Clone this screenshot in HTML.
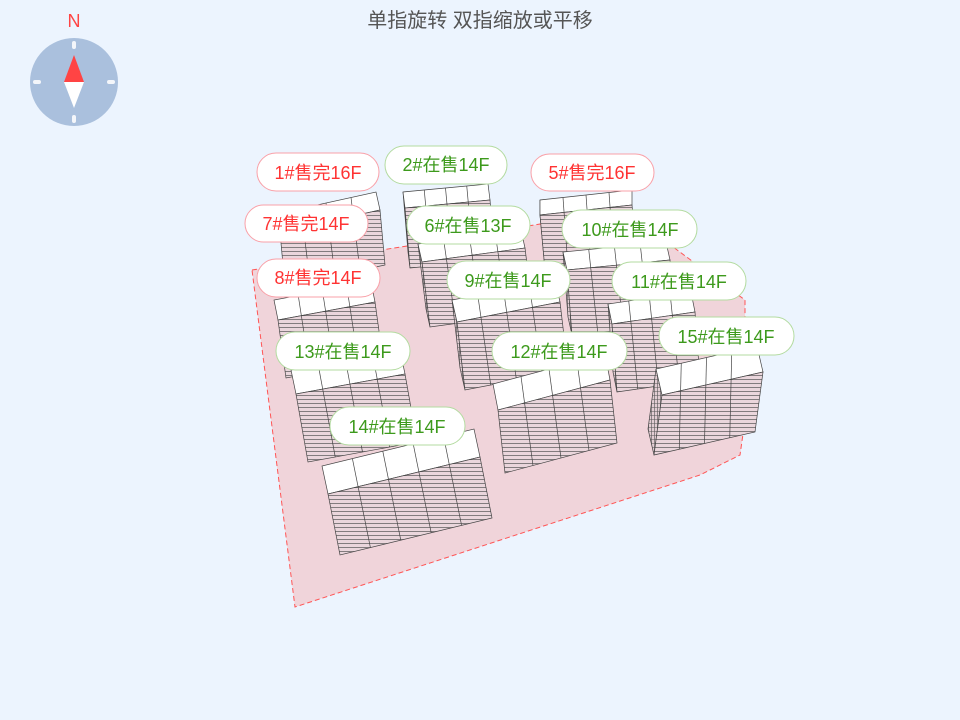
<!DOCTYPE html>
<html><head><meta charset="utf-8"><style>
body{margin:0;background:#ecf4fe;}
svg{display:block;font-family:"Liberation Sans","Noto Sans CJK SC",sans-serif;}
</style></head><body>
<svg id="s" width="960" height="720" viewBox="0 0 960 720">
<defs>
<pattern id="st" width="8" height="4" patternUnits="userSpaceOnUse">
<rect width="8" height="4" fill="#ead6dc"/><line x1="0" y1="3.6" x2="8" y2="3.6" stroke="#555" stroke-width="0.7"/>
</pattern>
<pattern id="sd" width="3" height="4" patternUnits="userSpaceOnUse">
<rect width="3" height="4" fill="#e2cdd3"/><line x1="0.5" y1="0" x2="0.5" y2="4" stroke="#555" stroke-width="0.6"/><line x1="0" y1="3.6" x2="3" y2="3.6" stroke="#555" stroke-width="0.5"/>
</pattern>
</defs>
<rect width="960" height="720" fill="#ecf4fe"/>
<text x="480" y="27" text-anchor="middle" font-size="20" fill="#555">单指旋转 双指缩放或平移</text>
<text x="74" y="27" text-anchor="middle" font-size="18" fill="#f44">N</text>
<circle cx="74" cy="82" r="44" fill="#aac0dd"/>
<g stroke="#f4f6fa" stroke-width="4" stroke-linecap="round">
<line x1="74" y1="43" x2="74" y2="47"/><line x1="74" y1="117" x2="74" y2="121"/>
<line x1="35" y1="82" x2="39" y2="82"/><line x1="109" y1="82" x2="113" y2="82"/></g>
<polygon points="74,55 64,82 84,82" fill="#f44"/>
<polygon points="74,108 64,82 84,82" fill="#fff"/>
<polygon points="252,270 420,244 540,224 650,230 745,300 745,420 740,455 700,475 295,607" fill="#f0d4da" stroke="#f55" stroke-dasharray="5,3" stroke-width="1"/>
<g id="bl" stroke="#444" stroke-width="0.7"></g>
<g font-size="18" text-anchor="middle">
<g fill="#fff" stroke="#f9a0a8" stroke-width="1">
<rect x="257" y="153" width="122" height="38" rx="19"/>
<rect x="531" y="154" width="123" height="37" rx="18.5"/>
<rect x="245" y="205" width="123" height="37" rx="18.5"/>
<rect x="257" y="259" width="123" height="38" rx="19"/>
</g>
<g fill="#fff" stroke="#b3dba0" stroke-width="1">
<rect x="385" y="146" width="122" height="38" rx="19"/>
<rect x="407" y="206" width="123" height="38" rx="19"/>
<rect x="562" y="210" width="135" height="38" rx="19"/>
<rect x="447" y="261" width="123" height="38" rx="19"/>
<rect x="612" y="262" width="134" height="38" rx="19"/>
<rect x="659" y="317" width="135" height="38" rx="19"/>
<rect x="276" y="332" width="134" height="38" rx="19"/>
<rect x="492" y="332" width="135" height="38" rx="19"/>
<rect x="330" y="407" width="135" height="38" rx="19"/>
</g>
<g fill="#f33">
<text x="318" y="179">1#售完16F</text>
<text x="592" y="179">5#售完16F</text>
<text x="306" y="230">7#售完14F</text>
<text x="318" y="284">8#售完14F</text>
</g>
<g fill="#3d9a1c">
<text x="446" y="171">2#在售14F</text>
<text x="468" y="232">6#在售13F</text>
<text x="630" y="236">10#在售14F</text>
<text x="508" y="287">9#在售14F</text>
<text x="679" y="288">11#在售14F</text>
<text x="726" y="343">15#在售14F</text>
<text x="343" y="358">13#在售14F</text>
<text x="559" y="358">12#在售14F</text>
<text x="397" y="433">14#在售14F</text>
</g>
</g>
</svg>
<script>
var B=[
[280,232,380,210,5,55,-4,-18,4,0],
[405,208,490,200,5,60,-2,-16,4,1],
[540,215,632,205,5,55,0,-15,4,1],
[422,262,525,248,8,65,-4,-18,4,1],
[567,270,670,260,5,65,-4,-18,4,1],
[278,320,375,302,8,58,-4,-20,4,0],
[457,322,560,302,8,68,-5,-22,4,1],
[612,324,695,312,5,68,-4,-20,4,1],
[296,394,405,374,12,68,-5,-24,4,0],
[498,410,610,380,7,63,-5,-26,4,0],
[662,395,763,372,-8,60,-6,-26,4,1],
[328,494,480,457,12,61,-6,-28,5,0]];
var g=document.getElementById('bl'),h='';
function P(a){return a.map(function(p){return p[0].toFixed(1)+','+p[1].toFixed(1)}).join(' ');}
B.forEach(function(b){
var A=[b[0],b[1]],C=[b[2],b[3]],H=[b[4],b[5]],D=[b[6],b[7]],n=b[8];
function add(p,q){return [p[0]+q[0],p[1]+q[1]];}
if(b[9]) h+='<polygon points="'+P([A,add(A,D),add(add(A,D),H),add(A,H)])+'" fill="url(#sd)"/>';
h+='<polygon points="'+P([A,C,add(C,D),add(A,D)])+'" fill="#fff"/>';
h+='<polygon points="'+P([A,C,add(C,H),add(A,H)])+'" fill="url(#st)"/>';
for(var i=1;i<n;i++){var t=i/n,X=[A[0]+(C[0]-A[0])*t,A[1]+(C[1]-A[1])*t];
h+='<line x1="'+(X[0]+D[0])+'" y1="'+(X[1]+D[1])+'" x2="'+(X[0]+H[0])+'" y2="'+(X[1]+H[1])+'"/>';}
});
g.innerHTML=h;
</script>
</body></html>
